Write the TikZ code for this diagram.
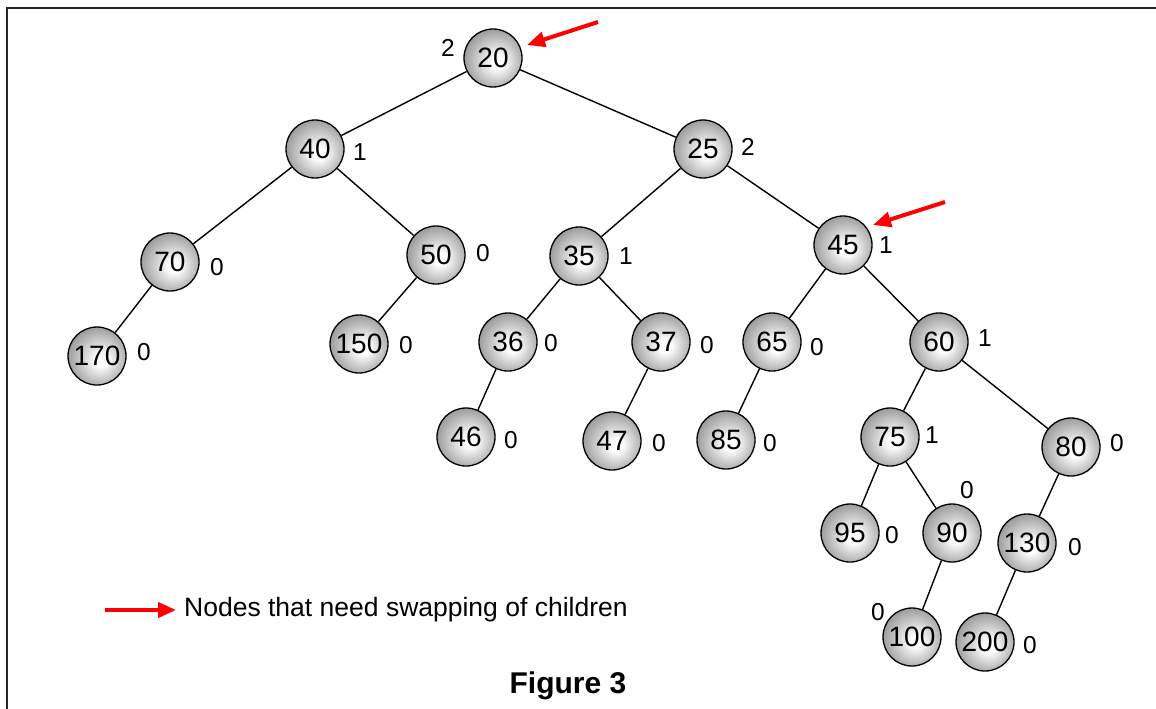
\documentclass[tikz,border=0pt]{standalone}
\usepackage{fontspec}
\setmainfont{Liberation Sans}
\usetikzlibrary{arrows.meta}

\pgfdeclareradialshading{knotshade}{\pgfpoint{4bp}{-4bp}}{color(0bp)=(white); color(5bp)=(white); color(29bp)=(black!42); color(50bp)=(black!42)}

\begin{document}
\begin{tikzpicture}[x=1pt,y=-1pt,
  knot/.style={circle,draw,line width=1.3pt,shading=knotshade,minimum size=58pt,inner sep=0pt,font=\fontsize{28}{28}\selectfont},
  bal/.style={font=\fontsize{24.5}{24.5}\selectfont,inner sep=0pt},
  edge/.style={line width=1.4pt},
  swap/.style={red,line width=4pt,-{Triangle[length=18pt,width=15pt]}}
  ]
  \useasboundingbox (0,0) rectangle (1156,709);

  % frame
  \draw[line width=2pt,black!85] (7,709) -- (7,8) -- (1156,8);

  % tree
  \node[knot] (n20) at (493,58) {20};
  \node[knot] (n40) at (315,149) {40};
  \node[knot] (n25) at (703,149) {25};
  \node[knot] (n70) at (170,262) {70};
  \node[knot] (n50) at (436,255) {50};
  \node[knot] (n35) at (579,256) {35};
  \node[knot] (n45) at (843,245) {45};
  \node[knot] (n170) at (97,356) {170};
  \node[knot] (n150) at (359,344) {150};
  \node[knot] (n36) at (508,342) {36};
  \node[knot] (n37) at (661,342) {37};
  \node[knot] (n65) at (772,342) {65};
  \node[knot] (n60) at (939,342) {60};
  \node[knot] (n46) at (466,437) {46};
  \node[knot] (n47) at (612,441) {47};
  \node[knot] (n85) at (726,440) {85};
  \node[knot] (n75) at (890,437) {75};
  \node[knot] (n80) at (1071,447) {80};
  \node[knot] (n95) at (850,533) {95};
  \node[knot] (n90) at (952,533) {90};
  \node[knot] (n130) at (1027,543) {130};
  \node[knot] (n100) at (912,637) {100};
  \node[knot] (n200) at (985,642) {200};

  \draw[edge] (n20) -- (n40);
  \draw[edge] (n20) -- (n25);
  \draw[edge] (n40) -- (n70);
  \draw[edge] (n40) -- (n50);
  \draw[edge] (n70) -- (n170);
  \draw[edge] (n50) -- (n150);
  \draw[edge] (n25) -- (n35);
  \draw[edge] (n25) -- (n45);
  \draw[edge] (n35) -- (n36);
  \draw[edge] (n35) -- (n37);
  \draw[edge] (n36) -- (n46);
  \draw[edge] (n37) -- (n47);
  \draw[edge] (n45) -- (n65);
  \draw[edge] (n45) -- (n60);
  \draw[edge] (n65) -- (n85);
  \draw[edge] (n60) -- (n75);
  \draw[edge] (n60) -- (n80);
  \draw[edge] (n75) -- (n95);
  \draw[edge] (n75) -- (n90);
  \draw[edge] (n90) -- (n100);
  \draw[edge] (n80) -- (n130);
  \draw[edge] (n130) -- (n200);

  % heights
  \node[bal] (h20) at (448,48) {2};
  \node[bal] (h40) at (360,152) {1};
  \node[bal] (h25) at (748,147) {2};
  \node[bal] (h70) at (217,267) {0};
  \node[bal] (h50) at (483,253) {0};
  \node[bal] (h35) at (626,256) {1};
  \node[bal] (h45) at (886,245) {1};
  \node[bal] (h170) at (144,352) {0};
  \node[bal] (h150) at (406,345) {0};
  \node[bal] (h36) at (551,343) {0};
  \node[bal] (h37) at (707,345) {0};
  \node[bal] (h65) at (817,347) {0};
  \node[bal] (h60) at (985,338) {1};
  \node[bal] (h46) at (511,440) {0};
  \node[bal] (h47) at (659,443) {0};
  \node[bal] (h85) at (770,443) {0};
  \node[bal] (h75) at (932,435) {1};
  \node[bal] (h80) at (1117,443) {0};
  \node[bal] (h95) at (892,535) {0};
  \node[bal] (h90) at (967,490) {0};
  \node[bal] (h130) at (1075,547) {0};
  \node[bal] (h100) at (878,612) {0};
  \node[bal] (h200) at (1030,645) {0};

  % arrows
  \coordinate (t20) at (598,22);
  \coordinate (p20) at (527,45);
  \coordinate (t45) at (945,202);
  \coordinate (p45) at (873,225);
  \draw[swap] (t20) -- (p20);
  \draw[swap] (t45) -- (p45);

  % legend
  \node[anchor=west,inner sep=0pt,font=\fontsize{26.5}{26.5}\selectfont] (legend) at (184,610) {Nodes that need swapping of children};
  \coordinate (lg) at (105,610);
  \draw[swap] (lg) -- ([xshift=-8pt]legend.west);

  \node[font=\fontsize{30}{30}\selectfont\bfseries] (caption) at (568,686) {Figure 3};
\end{tikzpicture}
\end{document}
